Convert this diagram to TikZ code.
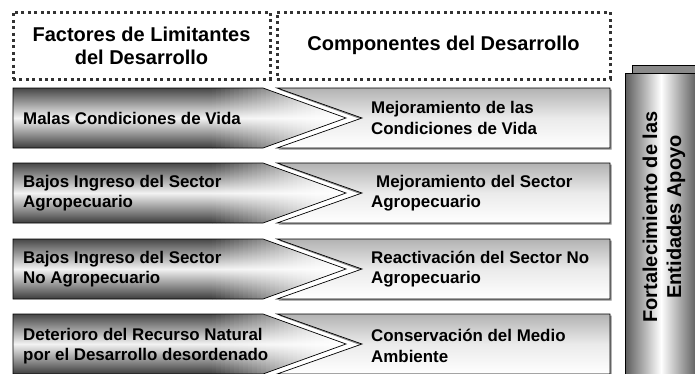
\documentclass[tikz,border=0pt]{standalone}
\usepackage{fontspec}
\setmainfont{Liberation Sans}
\begin{document}
\begin{tikzpicture}[x=1pt,y=-1pt,
  hdrbox/.style={draw=black!80, line width=3pt, dash pattern=on 3pt off 3.4pt,
    inner sep=0pt, align=center, font=\fontsize{20}{23}\selectfont\bfseries},
  ltxt/.style={anchor=west, align=left, inner sep=0pt, font=\fontsize{16.9}{20.5}\selectfont\bfseries},
  cyltxt/.style={align=center, inner sep=0pt, rotate=90, font=\fontsize{20}{24}\selectfont\bfseries},
  arrowline/.style={draw=black, line width=0.7pt},
]
\useasboundingbox (0,0) rectangle (695,373);

% header boxes
\node[hdrbox, minimum width=257pt, minimum height=67pt] (h1) at (141.5,45.5)
  {Factores de Limitantes\\del Desarrollo};
\node[hdrbox, minimum width=333pt, minimum height=67pt] (h2) at (443.5,45.5)
  {Componentes del Desarrollo};

% rows
\foreach \yt in {88,163,239,314} {
  \pgfmathsetmacro\ymid{\yt+30}
  \pgfmathsetmacro\ybot{\yt+60}
  % left arrow
  \begin{scope}
    \clip (13,\yt) -- (263,\yt) -- (346,\ymid) -- (263,\ybot) -- (13,\ybot) -- cycle;
    \shade[top color=black!72, bottom color=black!76, middle color=black!5]
      (12,\yt) rectangle (212.5,\ybot);
    \foreach \k in {0,...,29} {
      \pgfmathsetmacro\xa{212+\k*4.5}
      \pgfmathsetmacro\xb{\xa+4.8}
      \pgfmathsetmacro\ct{72*(1-(\k+0.5)/30)}
      \pgfmathsetmacro\cb{76*(1-(\k+0.5)/30)}
      \pgfmathsetmacro\cm{5*(1-(\k+0.5)/30)}
      \shade[top color=black!\ct, bottom color=black!\cb, middle color=black!\cm]
        (\xa,\yt) rectangle (\xb,\ybot);
    }
  \end{scope}
  \draw[arrowline]
    (13,\yt) -- (263,\yt) -- (346,\ymid) -- (263,\ybot) -- (13,\ybot) -- cycle;
  % right box shadow
  \fill[black!45] (278.5,\yt+1.5) -- (611.5,\yt+1.5) -- (611.5,\ybot+1.5) -- (278.5,\ybot+1.5) -- (361.5,\ymid+1.5) -- cycle;
  % right box
  \shade[top color=black!30, bottom color=white, middle color=black!8]
    (277,\yt) -- (610,\yt) -- (610,\ybot) -- (277,\ybot) -- (362,\ymid) -- cycle;
  \draw[arrowline]
    (277,\yt) -- (610,\yt) -- (610,\ybot) -- (277,\ybot) -- (362,\ymid) -- cycle;
}

% left texts
\node[ltxt] (l1) at (23,118) {Malas Condiciones de Vida};
\node[ltxt] (l2) at (23,193) {Bajos Ingreso del Sector\\Agropecuario};
\node[ltxt] (l3) at (23,269) {Bajos Ingreso del Sector\\No Agropecuario};
\node[ltxt] (l4) at (23,346) {Deterioro del Recurso Natural\\por el Desarrollo desordenado};

% right texts
\node[ltxt] (r1) at (371,118) {Mejoramiento de las\\Condiciones de Vida};
\node[ltxt] (r2) at (371,193) {\hspace*{5pt}Mejoramiento del Sector\\Agropecuario};
\node[ltxt] (r3) at (371,269) {Reactivación del Sector No\\Agropecuario};
\node[ltxt] (r4) at (371,346) {Conservación del Medio\\Ambiente};

% support column
\fill[black!46] (632,65) rectangle (705,73);
\draw[line width=0.8pt] (632,73) -- (632,65) -- (705,65);
\shade[left color=black!64, right color=black!64, middle color=white]
  (625,73) rectangle (697,380);
\draw[line width=0.8pt] (625,380) -- (625,73) -- (705,73);
\node[cyltxt] (c) at (664,217) {Fortalecimiento de las\\Entidades Apoyo};
\end{tikzpicture}
\end{document}
